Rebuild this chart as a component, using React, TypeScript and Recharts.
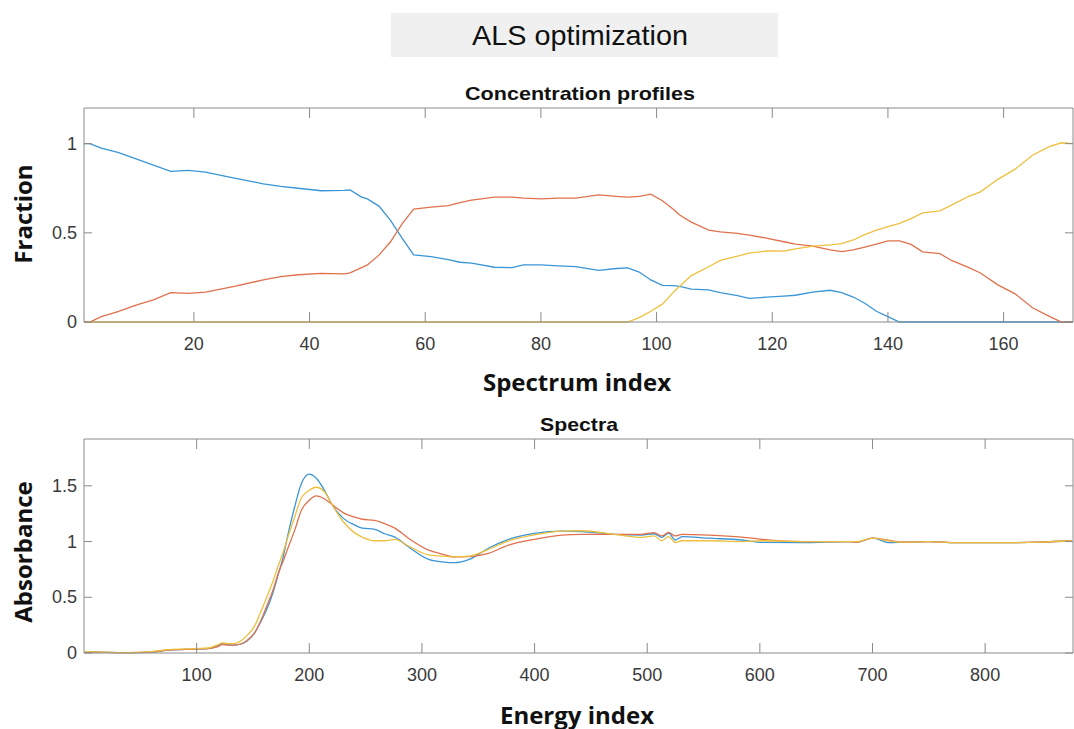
import { LineChart, Line, XAxis, YAxis } from "recharts";

// concentration profiles (spectrum index vs fraction)
const spectrumIndex = [1, 2, 4, 7, 10, 13, 16, 19, 22, 27, 32, 35, 38, 42, 46, 47, 49, 50, 52, 54, 56, 58, 61, 64, 66, 68, 72, 75, 77, 80, 83, 86, 90, 93, 95, 97, 99, 101, 103, 104, 106, 109, 111, 114, 116, 119, 122, 124, 127, 130, 132, 134, 136, 138, 140, 142, 144, 146, 149, 151, 154, 156, 159, 162, 165, 168, 170, 172];
const conc1 = [1.0, 1.0, 0.975, 0.95, 0.915, 0.88, 0.845, 0.85, 0.84, 0.807, 0.775, 0.76, 0.75, 0.736, 0.738, 0.74, 0.7, 0.69, 0.65, 0.57, 0.47, 0.376, 0.367, 0.35, 0.335, 0.33, 0.307, 0.305, 0.32, 0.32, 0.315, 0.31, 0.29, 0.3, 0.303, 0.28, 0.236, 0.205, 0.204, 0.2, 0.184, 0.18, 0.165, 0.148, 0.133, 0.139, 0.145, 0.15, 0.167, 0.178, 0.165, 0.14, 0.105, 0.06, 0.03, 0, 0, 0, 0, 0, 0, 0, 0, 0, 0, 0, 0, 0];
const conc2 = [0, 0, 0.03, 0.06, 0.095, 0.124, 0.165, 0.16, 0.168, 0.2, 0.236, 0.255, 0.265, 0.273, 0.27, 0.275, 0.305, 0.32, 0.375, 0.45, 0.55, 0.633, 0.644, 0.652, 0.67, 0.683, 0.7, 0.7, 0.695, 0.69, 0.695, 0.695, 0.713, 0.705, 0.7, 0.705, 0.717, 0.68, 0.63, 0.6, 0.56, 0.515, 0.505, 0.497, 0.487, 0.47, 0.45, 0.437, 0.425, 0.405, 0.395, 0.405, 0.42, 0.436, 0.455, 0.455, 0.435, 0.393, 0.383, 0.345, 0.305, 0.275, 0.208, 0.158, 0.08, 0.03, 0, 0];
const conc3 = [0, 0, 0, 0, 0, 0, 0, 0, 0, 0, 0, 0, 0, 0, 0, 0, 0, 0, 0, 0, 0, 0, 0, 0, 0, 0, 0, 0, 0, 0, 0, 0, 0, 0, 0, 0.025, 0.06, 0.1, 0.17, 0.2, 0.26, 0.31, 0.345, 0.37, 0.386, 0.398, 0.397, 0.41, 0.425, 0.433, 0.44, 0.46, 0.49, 0.515, 0.535, 0.553, 0.58, 0.612, 0.623, 0.655, 0.705, 0.73, 0.8, 0.857, 0.935, 0.985, 1.005, 1.0];

// spectra (energy index vs absorbance)
const energyIndex = [1, 20, 40, 60, 75, 100, 110, 118, 123, 128, 133, 140, 145, 151, 157, 163, 168, 172, 177, 181, 187, 193, 200, 206, 214, 220, 230, 240, 247, 258, 267, 276, 288, 306, 318, 329, 342, 359, 377, 400, 424, 442, 471, 495, 506, 513, 519, 525, 531, 555, 584, 602, 638, 679, 686, 700, 715, 727, 750, 774, 818, 850, 877];
const spec1 = [0.01, 0.005, 0.003, 0.008, 0.025, 0.035, 0.04, 0.06, 0.085, 0.075, 0.07, 0.083, 0.11, 0.174, 0.28, 0.41, 0.55, 0.69, 0.87, 1.06, 1.31, 1.52, 1.604, 1.57, 1.45, 1.335, 1.21, 1.15, 1.12, 1.11, 1.07, 1.04, 0.953, 0.84, 0.818, 0.81, 0.84, 0.94, 1.02, 1.074, 1.094, 1.09, 1.065, 1.058, 1.07, 1.038, 1.075, 1.014, 1.044, 1.03, 1.014, 0.993, 0.99, 1.0, 0.995, 1.03, 0.99, 0.995, 1.0, 0.99, 0.99, 0.995, 1.007];
const spec2 = [0.01, 0.005, 0.003, 0.01, 0.025, 0.035, 0.04, 0.055, 0.075, 0.07, 0.07, 0.083, 0.115, 0.174, 0.29, 0.44, 0.57, 0.7, 0.83, 0.94, 1.1, 1.28, 1.37, 1.41, 1.38, 1.335, 1.26, 1.22, 1.2, 1.19, 1.16, 1.12, 1.03, 0.923, 0.888, 0.863, 0.865, 0.894, 0.968, 1.02, 1.058, 1.064, 1.065, 1.065, 1.08, 1.05, 1.083, 1.05, 1.065, 1.058, 1.04, 1.02, 1.0, 1.0, 0.993, 1.03, 1.01, 0.995, 1.0, 0.99, 0.99, 0.995, 1.007];
const spec3 = [0.015, 0.005, 0.003, 0.012, 0.03, 0.04, 0.045, 0.07, 0.09, 0.085, 0.085, 0.114, 0.16, 0.234, 0.37, 0.52, 0.65, 0.77, 0.91, 1.04, 1.22, 1.39, 1.46, 1.487, 1.44, 1.335, 1.18, 1.08, 1.04, 1.007, 1.007, 1.02, 0.96, 0.88, 0.87, 0.863, 0.87, 0.93, 1.007, 1.06, 1.094, 1.097, 1.065, 1.038, 1.05, 1.007, 1.045, 0.99, 1.007, 1.007, 1.0, 1.007, 1.0, 1.0, 1.0, 1.03, 1.005, 0.995, 1.0, 0.99, 0.99, 0.995, 1.007];

const concTicksX = [20, 40, 60, 80, 100, 120, 140, 160];
const concTicksY = [0, 0.5, 1];
const specTicksX = [100, 200, 300, 400, 500, 600, 700, 800];
const specTicksY = [0, 0.5, 1, 1.5];

const colors = ["#3a96d6", "#e0714c", "#eec03e"];
const axisColor = "#8a8a8a";
const ink = "#3a3a3a";
const tickFont = "'Liberation Sans', Arial, sans-serif";
const labelFont = "'Open Sans', sans-serif";

const concData = spectrumIndex.map((x, i) => ({ x, a: conc1[i], b: conc2[i], c: conc3[i] }));
const specData = energyIndex.map((x, i) => ({ x, a: spec1[i], b: spec2[i], c: spec3[i] }));

const BottomTick = (props: any) => {
  const { x, y, payload } = props;
  return (
    <g>
      <line x1={x} x2={x} y1={y} y2={y - 10} stroke={axisColor} />
      <text x={x} y={y + 22} textAnchor="middle" dominantBaseline="central" fontSize={18} fill={ink} fontFamily={tickFont}>
        {payload.value}
      </text>
    </g>
  );
};

const TopTick = (props: any) => {
  const { x, y } = props;
  return <line x1={x} x2={x} y1={y} y2={y + 10} stroke={axisColor} />;
};

const LeftTick = (props: any) => {
  const { x, y, payload } = props;
  return (
    <g>
      <line x1={x} x2={x + 8} y1={y} y2={y} stroke={axisColor} />
      <text x={x - 7} y={y} textAnchor="end" dominantBaseline="central" fontSize={18} fill={ink} fontFamily={tickFont}>
        {String(payload.value)}
      </text>
    </g>
  );
};

const RightTick = (props: any) => {
  const { x, y } = props;
  return <line x1={x} x2={x - 8} y1={y} y2={y} stroke={axisColor} />;
};

function Panel({ data, height, plotTop, plotBottom, xDomain, xTicks, yDomain, yTicks, curve }: any) {
  return (
    <div style={{ position: "absolute", left: 0, top: 0 }}>
      <LineChart width={1074} height={height} data={data} margin={{ top: plotTop - 1, right: 0, bottom: 0, left: 0 }}>
        <XAxis xAxisId="b" type="number" dataKey="x" domain={xDomain} ticks={xTicks}
          height={height - plotBottom} tickSize={0} tickMargin={0} tickLine={false} stroke={axisColor} tick={<BottomTick />} />
        <XAxis xAxisId="t" orientation="top" type="number" dataKey="x" domain={xDomain} ticks={xTicks} allowDataOverflow
          height={1} tickSize={0} tickMargin={0} tickLine={false} stroke={axisColor} tick={<TopTick />} />
        <YAxis yAxisId="l" type="number" domain={yDomain} ticks={yTicks} width={84}
          tickSize={0} tickMargin={0} tickLine={false} stroke={axisColor} tick={<LeftTick />} />
        <YAxis yAxisId="r" orientation="right" type="number" domain={yDomain} ticks={yTicks} allowDataOverflow width={1}
          tickSize={0} tickMargin={0} tickLine={false} stroke={axisColor} tick={<RightTick />} />
        {["a", "b", "c"].map((k, i) => (
          <Line key={k} xAxisId="b" yAxisId="l" type={curve} dataKey={k} stroke={colors[i]} strokeWidth={1.3}
            dot={false} isAnimationActive={false} />
        ))}
      </LineChart>
    </div>
  );
}

export default function App() {
  return (
    <div style={{ position: "absolute", left: 0, top: 0, width: 1074, height: 729, background: "#fff", overflow: "hidden" }}>
      <Panel data={concData} height={360} plotTop={108} plotBottom={322} xDomain={[1, 172]} xTicks={concTicksX}
        yDomain={[0, 1.2]} yTicks={concTicksY} curve="linear" />
      <Panel data={specData} height={729} plotTop={439} plotBottom={653} xDomain={[0, 878]} xTicks={specTicksX}
        yDomain={[0, 1.92]} yTicks={specTicksY} curve="monotone" />
      <svg width={1074} height={729} style={{ position: "absolute", left: 0, top: 0, pointerEvents: "none" }}>
        <rect x={391} y={13} width={387} height={44} fill="#f0f0f0" />
        <text x={580} y={35} textAnchor="middle" dominantBaseline="central" fontSize={28} fill="#111" fontFamily={tickFont}
          textLength={216} lengthAdjust="spacingAndGlyphs">
          ALS optimization
        </text>
        <text x={580} y={93} textAnchor="middle" dominantBaseline="central" fontSize={19} fontWeight="bold" fill="#111" fontFamily={tickFont}
          textLength={230} lengthAdjust="spacingAndGlyphs">
          Concentration profiles
        </text>
        <text x={579} y={424} textAnchor="middle" dominantBaseline="central" fontSize={19} fontWeight="bold" fill="#111" fontFamily={tickFont}
          textLength={78} lengthAdjust="spacingAndGlyphs">
          Spectra
        </text>
        <text x={577} y={381} textAnchor="middle" dominantBaseline="central" fontSize={24} fontWeight="bold" fill="#111" fontFamily={labelFont}>
          Spectrum index
        </text>
        <text x={577} y={714} textAnchor="middle" dominantBaseline="central" fontSize={24} fontWeight="bold" fill="#111" fontFamily={labelFont}>
          Energy index
        </text>
        <text x={22} y={214} transform="rotate(-90 22 214)" textAnchor="middle" dominantBaseline="central" fontSize={24} fontWeight="bold" fill="#111" fontFamily={labelFont}>
          Fraction
        </text>
        <text x={22} y={552} transform="rotate(-90 22 552)" textAnchor="middle" dominantBaseline="central" fontSize={24} fontWeight="bold" fill="#111" fontFamily={labelFont}>
          Absorbance
        </text>
      </svg>
    </div>
  );
}
